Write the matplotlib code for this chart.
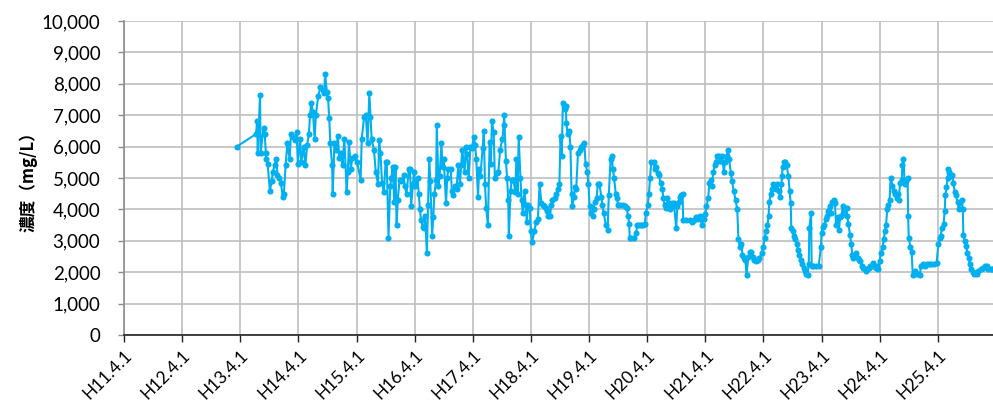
import numpy as np
import matplotlib.pyplot as plt

# sampling dates as decimal Heisei years (H11.4.1 -> 11.25) and concentrations (mg/L)
t_h13 = [13.19, 13.52, 13.54, 13.55, 13.59, 13.60, 13.65, 13.67, 13.69, 13.70, 13.72, 13.76,
         13.79, 13.81, 13.84, 13.87, 13.89, 13.92, 13.95, 13.98, 14.00, 14.03, 14.06, 14.10,
         14.12, 14.15, 14.19, 14.22, 14.24, 14.28, 14.30, 14.34, 14.37, 14.40, 14.43, 14.45,
         14.47, 14.50, 14.53, 14.55, 14.59, 14.63, 14.67, 14.69, 14.71, 14.74, 14.76, 14.78,
         14.80, 14.83, 14.84, 14.87, 14.90, 14.93, 14.95, 14.99, 15.01, 15.04, 15.08, 15.10,
         15.12, 15.15, 15.18, 15.22, 15.26, 15.32, 15.34, 15.38, 15.41, 15.44, 15.47, 15.49,
         15.51, 15.55, 15.58, 15.62]
c_h13 = [6000, 6400, 6800, 5800, 7650, 5800, 6600, 6400, 5800, 5600, 5450, 4600,
         4900, 5200, 5400, 5600, 5100, 5000, 4850, 4400, 4500, 5400, 6100, 5600,
         6400, 6300, 6200, 6450, 5450, 6250, 5500, 6000, 5400, 6050, 6400, 7000,
         7400, 7100, 6250, 7000, 7600, 7900, 7800, 7700, 8300, 7750, 7550, 6900,
         6100, 5400, 4500, 6100, 5900, 6350, 5650, 5800, 5400, 6250, 4550, 5200,
         6150, 5300, 5650, 5700, 5500, 4950, 6250, 6950, 7000, 6100, 7700, 6950,
         6250, 5900, 5200, 4800]

t_h15 = [15.64, 15.66, 15.69, 15.72, 15.75, 15.77, 15.80, 15.83, 15.85, 15.87, 15.90, 15.92,
         15.94, 15.96, 15.99, 16.02, 16.06, 16.08, 16.11, 16.15, 16.17, 16.19, 16.22, 16.24,
         16.26, 16.30, 16.32, 16.34, 16.36, 16.39, 16.41, 16.43, 16.46, 16.48, 16.50, 16.52,
         16.55, 16.57, 16.59, 16.62, 16.63, 16.66, 16.68, 16.71, 16.73, 16.75, 16.79, 16.81,
         16.83, 16.87, 16.89, 16.91, 16.94, 16.97, 17.00, 17.03, 17.05, 17.07, 17.11, 17.13,
         17.15, 17.18, 17.21, 17.23, 17.27, 17.29, 17.31, 17.34, 17.36, 17.38, 17.42, 17.44,
         17.46, 17.48, 17.51, 17.54, 17.56, 17.58, 17.61, 17.63, 17.66, 17.69, 17.72, 17.76,
         17.78, 17.79, 17.82, 17.84, 17.86, 17.87, 17.90, 17.92, 17.95, 17.98, 18.00, 18.02,
         18.04, 18.07, 18.09, 18.11, 18.14, 18.16, 18.18, 18.20, 18.23, 18.25, 18.27]
c_h15 = [6200, 5800, 4850, 4550, 5500, 5500, 3100, 4750, 5000, 5350, 4250, 5350,
         3500, 4300, 4950, 4900, 5100, 4750, 4500, 5300, 5300, 4100, 4800, 5200,
         4750, 5000, 4500, 4000, 3650, 3450, 3400, 3800, 2600, 4150, 5600, 4900,
         3150, 3750, 4500, 4950, 6700, 4750, 5050, 6100, 5350, 5600, 4200, 5000,
         5300, 5300, 4600, 4450, 4750, 4650, 5400, 4800, 5400, 5900, 5200, 6000,
         5750, 5000, 6000, 5950, 6300, 6050, 5600, 4400, 5300, 5050, 5950, 6500,
         4800, 4050, 3500, 6150, 5450, 6800, 6450, 5000, 5150, 5200, 5900, 6250,
         6700, 7000, 5550, 5000, 4300, 3150, 4600, 4950, 4950, 4550, 5600, 4500,
         6300, 5000, 4300, 3900, 4600, 4150, 3600, 4150, 4050, 3300, 2950]

t_h18 = [18.31, 18.34, 18.37, 18.40, 18.43, 18.45, 18.47, 18.51, 18.53, 18.55, 18.58, 18.60,
         18.62, 18.66, 18.69, 18.71, 18.74, 18.76, 18.78, 18.80, 18.83, 18.85, 18.86, 18.88,
         18.91, 18.93, 18.95, 18.96, 18.99, 19.01, 19.03, 19.06, 19.09, 19.12, 19.15, 19.17,
         19.19, 19.22, 19.24, 19.26, 19.28, 19.31, 19.33, 19.35, 19.38, 19.40, 19.43, 19.46,
         19.48, 19.50, 19.54, 19.57, 19.59, 19.62, 19.64, 19.66, 19.68, 19.71, 19.73, 19.75,
         19.79, 19.83, 19.87, 19.90, 19.92, 19.94, 19.95, 19.98, 20.03, 20.06, 20.08, 20.11,
         20.14, 20.18, 20.21, 20.23, 20.26, 20.28, 20.30, 20.32, 20.36, 20.38, 20.40, 20.43,
         20.45, 20.48, 20.51, 20.53, 20.55, 20.58, 20.60, 20.62, 20.64, 20.67, 20.69, 20.71,
         20.75, 20.77, 20.79, 20.82, 20.84, 20.86, 20.87, 20.91]
c_h18 = [3300, 3600, 3700, 4800, 4200, 4150, 4100, 4050, 3950, 3800, 3800, 4150,
         4300, 4350, 4500, 4650, 4800, 6350, 5700, 7400, 7200, 7300, 6750, 6400,
         6500, 6000, 4500, 4100, 4400, 4700, 4650, 5800, 5900, 6000, 6050, 6100,
         5450, 5200, 4800, 4100, 3900, 3800, 4000, 4250, 4350, 4800, 4800, 4400,
         4150, 3900, 3500, 3350, 4450, 5600, 5700, 5300, 5000, 4500, 4350, 4150,
         4150, 4150, 4100, 4050, 3800, 3550, 3100, 3100, 3100, 3250, 3500, 3500,
         3500, 3500, 3550, 3900, 4150, 4500, 5000, 5500, 5500, 5300, 5350, 5150,
         5100, 4850, 4650, 4350, 4150, 4050, 4350, 4200, 4000, 4200, 4150, 4200,
         3400, 4100, 4250, 4400, 4450, 4500, 3650, 3650]

t_h21 = [20.99, 21.02, 21.05, 21.09, 21.12, 21.16, 21.19, 21.22, 21.25, 21.27, 21.30, 21.32,
         21.34, 21.36, 21.39, 21.41, 21.43, 21.46, 21.48, 21.50, 21.53, 21.55, 21.57, 21.59,
         21.62, 21.64, 21.66, 21.69, 21.71, 21.74, 21.77, 21.80, 21.82, 21.85, 21.87, 21.89,
         21.92, 21.94, 21.96, 21.99, 22.02, 22.04, 22.07, 22.09, 22.12, 22.15, 22.18, 22.22,
         22.25, 22.27, 22.30, 22.32, 22.34, 22.35, 22.38, 22.40, 22.42, 22.45, 22.47, 22.49,
         22.51, 22.54, 22.56, 22.57, 22.58, 22.61, 22.63, 22.65, 22.68, 22.70, 22.72, 22.73,
         22.76, 22.78, 22.80, 22.82, 22.85, 22.87, 22.89, 22.92, 22.94, 22.96, 22.99, 23.01,
         23.03, 23.04, 23.07, 23.08, 23.11, 23.16, 23.20, 23.24, 23.25, 23.27, 23.30, 23.32,
         23.34, 23.36, 23.39, 23.41, 23.43, 23.46, 23.48, 23.50, 23.53, 23.55, 23.57, 23.59,
         23.62, 23.64]
c_h21 = [3650, 3600, 3650, 3750, 3700, 3800, 3500, 3700, 3850, 4100, 4350, 4850,
         4950, 4750, 5200, 5400, 5500, 5700, 5700, 5550, 5700, 5500, 5200, 5500,
         5700, 5900, 5600, 5150, 4900, 4600, 4300, 4000, 3050, 2800, 2900, 2550,
         2450, 2400, 1900, 2500, 2650, 2650, 2500, 2400, 2350, 2400, 2450, 2600,
         2800, 3100, 3300, 3500, 3800, 4250, 4500, 4650, 4800, 4750, 4650, 4800,
         4600, 4400, 4800, 5050, 5350, 5500, 5500, 5400, 5050, 4600, 4200, 3400,
         3300, 3150, 3050, 2900, 2700, 2550, 2400, 2250, 2150, 2050, 1950, 1900,
         2250, 3400, 3900, 2200, 2200, 2200, 2200, 2800, 3250, 3450, 3500, 3700,
         3800, 3950, 4100, 3900, 4250, 4300, 4200, 3500, 3750, 3350, 3750, 3800,
         4100, 3850]

t_h23 = [23.68, 23.69, 23.71, 23.74, 23.76, 23.78, 23.80, 23.83, 23.85, 23.87, 23.90, 23.92,
         23.94, 23.96, 23.99, 24.01, 24.03, 24.06, 24.08, 24.11, 24.14, 24.16, 24.18, 24.20,
         24.23, 24.25, 24.27, 24.30, 24.32, 24.34, 24.36, 24.38, 24.40, 24.42, 24.44, 24.47,
         24.49, 24.51, 24.54, 24.56, 24.58, 24.60, 24.63, 24.64, 24.66, 24.68, 24.71, 24.73,
         24.74, 24.75, 24.78, 24.80, 24.82, 24.86, 24.89, 24.94, 24.96, 24.99, 25.03, 25.06,
         25.10, 25.14, 25.18, 25.23, 25.26, 25.28, 25.30, 25.32, 25.35, 25.37, 25.38, 25.40,
         25.42, 25.43, 25.45, 25.47, 25.50, 25.52, 25.54, 25.56, 25.59, 25.61, 25.63, 25.66,
         25.68, 25.69, 25.71, 25.74, 25.76, 25.78, 25.80, 25.83, 25.85, 25.88, 25.92, 25.95,
         25.99, 26.02, 26.06, 26.09, 26.12, 26.16, 26.19]
c_h23 = [4050, 3800, 3550, 3200, 2900, 2550, 2450, 2550, 2600, 2450, 2400, 2350,
         2200, 2150, 2100, 2050, 2100, 2150, 2200, 2200, 2300, 2200, 2150, 2200,
         2100, 2350, 2600, 2800, 3050, 3300, 3500, 4000, 4150, 4300, 5000, 4750,
         4600, 4500, 4350, 4500, 4300, 4850, 4950, 5400, 5600, 4800, 4900, 5000,
         3800, 3100, 2800, 2650, 1900, 2050, 1950, 1900, 2200, 2250, 2200, 2250,
         2250, 2250, 2250, 2300, 2900, 3100, 3150, 3400, 3550, 3950, 4450, 4700,
         5000, 5300, 5200, 5050, 5100, 4850, 4550, 4450, 4250, 4000, 4200, 4300,
         4000, 3200, 3000, 2850, 2600, 2450, 2250, 2100, 2000, 1950, 1950, 2050,
         2100, 2150, 2200, 2200, 2100, 2100, 2100]

years = list(range(11, 26))
tick_labels = [f'H{y}.4.1' for y in years]

t = np.concatenate([t_h13, t_h15, t_h18, t_h21, t_h23])
conc = np.concatenate([c_h13, c_h15, c_h18, c_h21, c_h23])

plt.rcParams['font.family'] = ['Lato', 'DejaVu Sans']

fig = plt.figure(figsize=(9.93, 4.03), dpi=100)
ax = fig.add_axes((0.1249, 0.1687, 0.8751, 0.7792))

ax.plot(t, conc, color='#00B0F0', lw=1.5, marker='o', ms=4.4,
        markeredgewidth=0, zorder=3)

ax.set_xlim(11.25, 26.2)
ax.set_ylim(0, 10000)
ax.set_xticks([y + 0.25 for y in years])
ax.set_xticklabels(tick_labels, rotation=45, ha='right', va='top',
                   rotation_mode='anchor', fontsize=12.5)
ax.set_yticks(np.arange(0, 10001, 1000))
ax.set_yticklabels([f'{v:,}' for v in range(0, 10001, 1000)], fontsize=13.5)

ax.grid(True, color='#BFBFBF', lw=1.2)
ax.set_axisbelow(True)
for side in ('top', 'right'):
    ax.spines[side].set_visible(False)
ax.spines['left'].set_color('#8C8C8C')
ax.spines['left'].set_linewidth(1.2)
ax.spines['bottom'].set_color('#222222')
ax.spines['bottom'].set_linewidth(1.2)
ax.tick_params(axis='y', direction='out', length=4, width=1, color='#8C8C8C', pad=13)
ax.tick_params(axis='x', direction='out', length=5, width=1, color='#222222', pad=4)

ax.set_ylabel('濃度（mg/L）', family=['Noto Sans CJK JP', 'DejaVu Sans'],
              fontsize=12, fontweight='bold', labelpad=3)

fig.savefig('out.png', dpi=100)
